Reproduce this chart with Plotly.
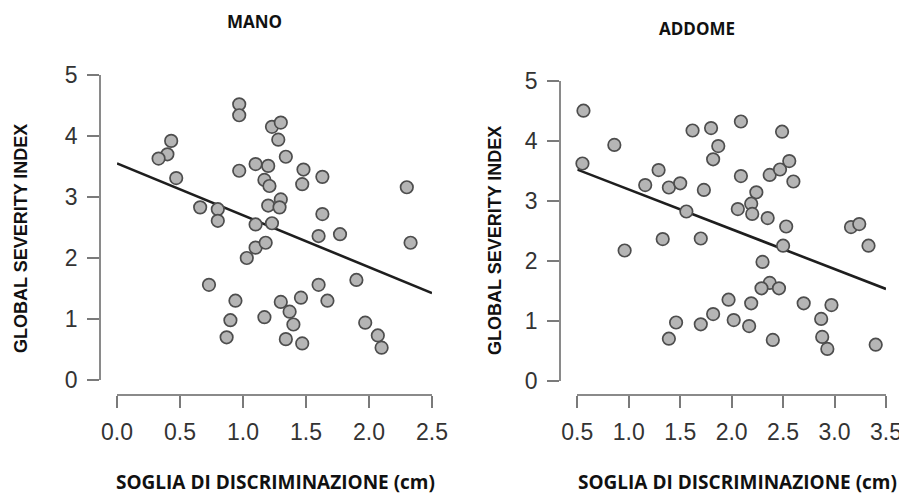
import plotly.graph_objects as go

# ---- data ----
mano_x = [0.97, 0.97, 0.43, 0.40, 0.33, 0.47, 1.23, 1.30, 1.28, 1.34, 0.97, 1.10, 1.20, 1.48, 1.47,
          1.63, 2.30, 1.17, 1.21, 0.66, 0.80, 0.80, 1.20, 1.30, 1.29, 1.10, 1.23, 1.63, 1.60, 1.77,
          2.33, 1.10, 1.18, 1.03, 0.73, 0.94, 0.90, 0.87, 1.17, 1.30, 1.37, 1.40, 1.34, 1.47, 1.46,
          1.60, 1.67, 1.90, 1.97, 2.07, 2.10]
mano_y = [4.52, 4.34, 3.92, 3.70, 3.63, 3.31, 4.15, 4.22, 3.94, 3.66, 3.43, 3.54, 3.51, 3.45, 3.21,
          3.33, 3.16, 3.28, 3.18, 2.83, 2.80, 2.61, 2.86, 2.96, 2.83, 2.55, 2.57, 2.72, 2.36, 2.39,
          2.25, 2.17, 2.25, 2.00, 1.56, 1.30, 0.98, 0.70, 1.03, 1.28, 1.12, 0.91, 0.67, 0.60, 1.35,
          1.56, 1.30, 1.64, 0.94, 0.73, 0.53]

addome_x = [0.56, 0.55, 0.86, 1.29, 1.16, 1.39, 1.50, 1.56, 1.73, 1.62, 1.80, 1.87, 1.82, 2.09, 2.09,
            2.37, 2.47, 2.56, 2.60, 2.49, 2.24, 2.19, 2.06, 2.20, 2.35, 2.53, 2.50, 3.16, 3.24, 3.33,
            1.33, 1.70, 0.96, 2.30, 2.37, 2.29, 2.46, 1.97, 2.19, 2.70, 2.97, 1.82, 2.02, 2.17, 1.46,
            1.70, 2.87, 2.88, 2.93, 1.39, 2.40, 3.40]
addome_y = [4.50, 3.62, 3.93, 3.51, 3.26, 3.22, 3.29, 2.82, 3.18, 4.17, 4.21, 3.91, 3.69, 4.32, 3.41,
            3.43, 3.52, 3.66, 3.32, 4.15, 3.14, 2.95, 2.86, 2.78, 2.71, 2.57, 2.25, 2.56, 2.61, 2.25,
            2.36, 2.37, 2.17, 1.98, 1.63, 1.54, 1.54, 1.35, 1.29, 1.29, 1.26, 1.11, 1.01, 0.91, 0.97,
            0.94, 1.03, 0.73, 0.53, 0.70, 0.68, 0.60]

# regression lines (intercept, slope, x-range)
mano_fit = (3.55, -0.85, [0.0, 2.5])
addome_fit = (3.85, -0.663, [0.5, 3.5])

y_ticks = [0, 1, 2, 3, 4, 5]
mano_xticks = [0.0, 0.5, 1.0, 1.5, 2.0, 2.5]
addome_xticks = [0.5, 1.0, 1.5, 2.0, 2.5, 3.0, 3.5]

titles = ["MANO", "ADDOME"]
x_title = "SOGLIA DI DISCRIMINAZIONE (cm)"
y_title = "GLOBAL SEVERITY INDEX"

# the page body adds an 8px margin; size the figure to fit the 907x497 window
OFF = 8
W, H = 907 - OFF, 497 - OFF
def px(x):
    return (x - OFF) / W
def py(y):
    return 1 - (y - OFF) / H

marker = dict(size=12.5, color="#b5b5b5", line=dict(color="#4d4d4d", width=1.7))
line_style = dict(color="#1e1e1e", width=2.6)

fig = go.Figure()

def fit_line(fit):
    a, b, xr = fit
    return xr, [a + b * v for v in xr]

lx, ly = fit_line(mano_fit)
fig.add_trace(go.Scatter(x=lx, y=ly, mode="lines", line=line_style, xaxis="x", yaxis="y",
                         showlegend=False, hoverinfo="skip"))
fig.add_trace(go.Scatter(x=mano_x, y=mano_y, mode="markers", marker=marker, xaxis="x", yaxis="y",
                         showlegend=False, cliponaxis=False))
rx, ry = fit_line(addome_fit)
fig.add_trace(go.Scatter(x=rx, y=ry, mode="lines", line=line_style, xaxis="x2", yaxis="y2",
                         showlegend=False, hoverinfo="skip"))
fig.add_trace(go.Scatter(x=addome_x, y=addome_y, mode="markers", marker=marker, xaxis="x2", yaxis="y2",
                         showlegend=False, cliponaxis=False))

tickfont = dict(family="Liberation Sans, Arial, sans-serif", size=23, color="#333333")
common = dict(showgrid=False, zeroline=False, showline=True, linecolor="#8a8a8a", linewidth=1.5,
              ticks="outside", ticklen=12, tickwidth=1.5, tickcolor="#7a7a7a", tickfont=tickfont,
              anchor="free", ticklabelstandoff=5, automargin=False)

fig.update_layout(
    template="none",
    width=W, height=H, margin=dict(l=0, r=0, t=0, b=0, pad=0, autoexpand=False),
    paper_bgcolor="white", plot_bgcolor="white",
    xaxis=dict(domain=[px(117), px(432)], range=[0, 2.5], tickvals=mano_xticks, tickformat=".1f",
               position=py(395), **common),
    yaxis=dict(domain=[py(380), py(75)], range=[0, 5], tickvals=y_ticks,
               position=px(100), **common),
    xaxis2=dict(domain=[px(577.3), px(886)], range=[0.5, 3.5], tickvals=addome_xticks, tickformat=".1f",
                position=py(395), **common),
    yaxis2=dict(domain=[py(380.7), py(80.7)], range=[0, 5], tickvals=y_ticks,
                position=px(560), **common),
)

title_font = dict(family="Open Sans, sans-serif", size=17, color="#111111")
xt_font = dict(family="Open Sans, sans-serif", size=19, color="#111111")
yt_font = dict(family="Liberation Sans, Arial, sans-serif", size=18, color="#111111")

ann = [
    dict(text="<b>%s</b>" % titles[0], x=px(254), y=py(22)),
    dict(text="<b>%s</b>" % titles[1], x=px(697), y=py(29)),
]
for a in ann:
    a.update(font=title_font)
ann += [
    dict(text="<b>%s</b>" % x_title, x=px(275), y=py(482), font=xt_font),
    dict(text="<b>%s</b>" % x_title, x=px(737), y=py(482), font=xt_font),
    dict(text="<b>%s</b>" % y_title, x=px(21), y=py(239), font=yt_font, textangle=-90),
    dict(text="<b>%s</b>" % y_title, x=px(495), y=py(241), font=yt_font, textangle=-90),
]
for a in ann:
    a.update(xref="paper", yref="paper", showarrow=False, xanchor="center", yanchor="middle")
fig.update_layout(annotations=ann)

fig.write_html("out.html")
